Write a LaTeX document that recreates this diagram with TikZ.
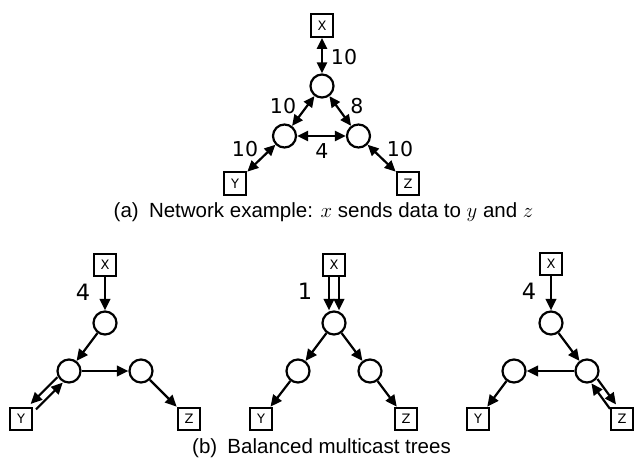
\documentclass[tikz,border=0pt]{standalone}
\usepackage{fontspec}
\setmainfont{Liberation Sans}
\newfontfamily\dejavu{DejaVu Sans}
\usetikzlibrary{arrows.meta}
\begin{document}
\begin{tikzpicture}[x=1pt,y=-1pt,
 rtr/.style={circle,draw,line width=2.2pt,minimum size=23pt,inner sep=0pt},
 host/.style={rectangle,draw,line width=2.2pt,minimum size=22.5pt,inner sep=0pt,font=\dejavu\fontsize{13}{15}\selectfont},
 lbl/.style={font=\dejavu\fontsize{20.5}{24}\selectfont,inner sep=0pt},
 lblb/.style={font=\dejavu\fontsize{22.5}{26}\selectfont,inner sep=0pt},
 link/.style={line width=2.2pt,{Triangle[length=11pt,width=10pt]}-{Triangle[length=11pt,width=10pt]}},
 fwd/.style={line width=2.2pt,-{Triangle[length=11.5pt,width=10.5pt]}},
 capt/.style={font=\fontsize{20.5}{24}\selectfont,inner sep=0pt}
]
\path[use as bounding box] (0,0) rectangle (636,471);

% (a) network
\node[host] (x0) at (322,25.5) {X};
\node[rtr] (a0) at (322,86) {};
\node[rtr] (b0) at (284.5,136) {};
\node[rtr] (c0) at (358.5,136) {};
\node[host] (y0) at (235,183.5) {Y};
\node[host] (z0) at (408,183.5) {Z};
\draw[link] (x0) -- (a0);
\draw[link] (a0) -- (b0);
\draw[link] (a0) -- (c0);
\draw[link] (b0) -- (c0);
\draw[link] (b0) -- (y0);
\draw[link] (c0) -- (z0);
\node[lbl] (l01) at (344,57) {10};
\node[lbl] (l02) at (283,106) {10};
\node[lbl] (l03) at (357,106) {8};
\node[lbl] (l04) at (322,151) {4};
\node[lbl] (l05) at (245,149) {10};
\node[lbl] (l06) at (400,149) {10};
\node[capt] (capa) at (323.5,212) {(a)\enspace Network example: $x$ sends data to $y$ and $z$};

% (b) tree 1
\node[host] (x1) at (105,265) {X};
\node[rtr] (a1) at (105,323) {};
\node[rtr] (b1) at (69,371) {};
\node[rtr] (c1) at (141,371) {};
\node[host] (y1) at (21,419) {Y};
\node[host] (z1) at (189,419) {Z};
\draw[fwd] (x1) -- (a1);
\draw[fwd] (a1) -- (b1);
\draw[fwd] (b1) -- (c1);
\draw[fwd] (c1) -- (z1);
\draw[fwd,transform canvas={shift={(-2.7,-2.7)}}] (b1) -- (y1);
\draw[fwd,transform canvas={shift={(2.7,2.7)}}] (y1) -- (b1);
\node[lblb] (l1) at (83,292) {4};

% (b) tree 2
\node[host] (x2) at (334,265) {X};
\node[rtr] (a2) at (334,323) {};
\node[rtr] (b2) at (298,371) {};
\node[rtr] (c2) at (370,371) {};
\node[host] (y2) at (261,419) {Y};
\node[host] (z2) at (406,419) {Z};
\draw[fwd,transform canvas={shift={(-5,0)}}] (x2) -- (a2);
\draw[fwd,transform canvas={shift={(5,0)}}] (x2) -- (a2);
\draw[fwd] (a2) -- (b2);
\draw[fwd] (a2) -- (c2);
\draw[fwd] (b2) -- (y2);
\draw[fwd] (c2) -- (z2);
\node[lblb] (l2) at (305,291) {1};

% (b) tree 3
\node[host] (x3) at (551,264) {X};
\node[rtr] (a3) at (551,323) {};
\node[rtr] (b3) at (514,371) {};
\node[rtr] (c3) at (587,371) {};
\node[host] (y3) at (478,419) {Y};
\node[host] (z3) at (622,419) {Z};
\draw[fwd] (x3) -- (a3);
\draw[fwd] (a3) -- (c3);
\draw[fwd] (c3) -- (b3);
\draw[fwd] (b3) -- (y3);
\draw[fwd,transform canvas={shift={(3,-2.2)}}] (c3) -- (z3);
\draw[fwd,transform canvas={shift={(-3,2.2)}}] (z3) -- (c3);
\node[lblb] (l3) at (529,291) {4};

\node[capt] (capb) at (321.5,448) {(b)\enspace Balanced multicast trees};
\end{tikzpicture}
\end{document}
